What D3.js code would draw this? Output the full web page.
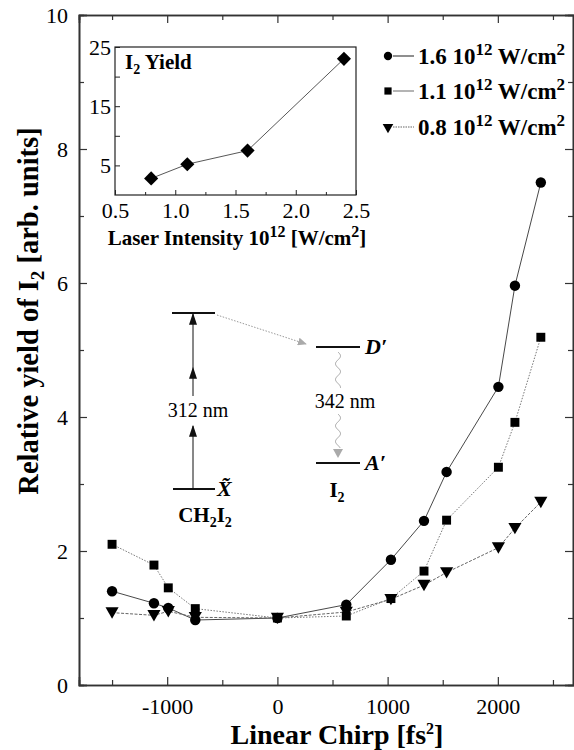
<!DOCTYPE html>
<html><head><meta charset="utf-8">
<script src="https://cdn.jsdelivr.net/npm/d3@7"></script>
<style>
body{margin:0;background:#fff}
svg{display:block}
text{font-family:"Liberation Serif","Times New Roman","DejaVu Serif",serif;fill:#000}
</style>
</head><body>
<svg id="c" width="574" height="750"></svg>
<script>
// ---- data ----
const chirp = [-1500, -1120, -990, -745, 0, 625, 1030, 1330, 1535, 2005, 2155, 2390];
const yield16 = [1.40, 1.22, 1.15, 0.97, 1.0, 1.20, 1.87, 2.45, 3.18, 4.45, 5.96, 7.50];
const yield11 = [2.10, 1.79, 1.45, 1.14, 1.0, 1.03, 1.29, 1.70, 2.46, 3.25, 3.92, 5.19];
const yield08 = [1.08, 1.04, 1.10, 1.01, 1.0, 1.09, 1.28, 1.49, 1.68, 2.05, 2.34, 2.73];
const seriesLabels = ["1.6", "1.1", "0.8"];
const xMajorTicks = [-1000, 0, 1000, 2000];
const xMinorTicks = [-1500, -500, 500, 1500, 2500];
const yMajorTicks = [0, 2, 4, 6, 8, 10];
const yMinorTicks = [1, 3, 5, 7, 9];
const intensity = [0.8, 1.1, 1.6, 2.4];
const totalYield = [2.8, 5.2, 7.5, 23.0];
const insetXTicks = [0.5, 1.0, 1.5, 2.0, 2.5];
const insetXMinor = [0.75, 1.25, 1.75, 2.25];
const insetYTicks = [5, 15, 25];
const insetYMinor = [10, 20];

const FONT = '"Liberation Serif","Times New Roman","DejaVu Serif",serif';
const svg = d3.select("#c");
const M = {l: 79, r: 575, t: 15, b: 685};
const x = d3.scaleLinear().domain([-1800, 2700]).range([M.l, M.r]);
const y = d3.scaleLinear().domain([0, 10]).range([M.b, M.t]);

const axisColor = "#333";
function styleAxis(g){
  g.attr("font-family", FONT);
  g.select(".domain").attr("stroke", axisColor).attr("stroke-width", 1.6);
  g.selectAll(".tick line").attr("stroke", axisColor).attr("stroke-width", 1.2);
  g.selectAll(".tick text").attr("font-size", 22).attr("font-family", FONT).attr("fill","#000");
}
const plain = d => String(d);
// bottom
svg.append("g").attr("transform", `translate(0,${M.b})`)
  .call(d3.axisBottom(x).tickValues(xMajorTicks).tickSize(-8).tickPadding(13).tickFormat(plain))
  .call(styleAxis);
svg.append("g").attr("transform", `translate(0,${M.b})`)
  .call(d3.axisBottom(x).tickValues(xMinorTicks).tickSize(-5).tickFormat(""))
  .call(styleAxis);
// top
svg.append("g").attr("transform", `translate(0,${M.t})`)
  .call(d3.axisTop(x).tickValues(xMajorTicks).tickSize(-8).tickFormat(""))
  .call(styleAxis);
svg.append("g").attr("transform", `translate(0,${M.t})`)
  .call(d3.axisTop(x).tickValues(xMinorTicks).tickSize(-5).tickFormat(""))
  .call(styleAxis);
// left
svg.append("g").attr("transform", `translate(${M.l},0)`)
  .call(d3.axisLeft(y).tickValues(yMajorTicks).tickSize(-8).tickPadding(11).tickFormat(plain))
  .call(styleAxis);
svg.append("g").attr("transform", `translate(${M.l},0)`)
  .call(d3.axisLeft(y).tickValues(yMinorTicks).tickSize(-5).tickFormat(""))
  .call(styleAxis);
// right
svg.append("g").attr("transform", `translate(${M.r - 2},0)`)
  .call(d3.axisRight(y).tickValues(yMajorTicks).tickSize(-8).tickFormat(""))
  .call(styleAxis);
svg.append("g").attr("transform", `translate(${M.r - 2},0)`)
  .call(d3.axisRight(y).tickValues(yMinorTicks).tickSize(-5).tickFormat(""))
  .call(styleAxis);

// axis titles
const xt = svg.append("text").attr("x", 337).attr("y", 744).attr("text-anchor", "middle")
  .attr("font-size", 28).attr("font-weight", "bold");
xt.append("tspan").text("Linear Chirp [fs");
xt.append("tspan").attr("font-size", 16).attr("dy", -10).text("2");
xt.append("tspan").attr("dy", 10).text("]");

const yt = svg.append("text").attr("transform", "translate(38,311) rotate(-90)")
  .attr("text-anchor", "middle").attr("font-size", 28.5).attr("font-weight", "bold");
yt.append("tspan").text("Relative yield of I");
yt.append("tspan").attr("font-size", 19).attr("dy", 6).text("2");
yt.append("tspan").attr("dy", -6).text(" [arb. units]");

// series
const series = [
  {vals: yield16, sym: d3.symbolCircle, size: 85, rot: 0, stroke: "#333", dash: null, lw: 0.9},
  {vals: yield11, sym: d3.symbolSquare, size: 80, rot: 0, stroke: "#777", dash: "1.5,1.5", lw: 1},
  {vals: yield08, sym: d3.symbolTriangle, size: 75, rot: 180, stroke: "#666", dash: "3,1.5", lw: 1}
];
const line = d3.line().x(d => x(d[0])).y(d => y(d[1]));
series.forEach(s => {
  const pts = chirp.map((c, i) => [c, s.vals[i]]);
  svg.append("path").attr("d", line(pts)).attr("fill", "none")
    .attr("stroke", s.stroke).attr("stroke-width", s.lw).attr("stroke-dasharray", s.dash);
});
series.slice().reverse().forEach(s => {
  svg.append("g").selectAll("path").data(chirp.map((c, i) => [c, s.vals[i]])).join("path")
    .attr("d", d3.symbol(s.sym, s.size))
    .attr("transform", d => `translate(${x(d[0])},${y(d[1]) + (s.rot ? -1.5 : 0)}) rotate(${s.rot})`)
    .attr("fill", "#000");
});

// legend
const legY = [56, 91, 127];
series.forEach((s, i) => {
  const g = svg.append("g").attr("transform", `translate(388,${legY[i]})`);
  g.append("path").attr("d", d3.symbol(s.sym, s.size * 0.65)).attr("transform", `rotate(${s.rot})`).attr("fill", "#000");
  g.append("line").attr("x1", 5).attr("x2", 26).attr("stroke", s.stroke).attr("stroke-width", 1.1)
    .attr("stroke-dasharray", i === 2 ? "1.5,1" : null);
  const t = g.append("text").attr("x", 30).attr("y", 8).attr("font-size", 23).attr("font-weight", "bold");
  t.append("tspan").text(seriesLabels[i] + " 10");
  t.append("tspan").attr("font-size", 17).attr("dy", -9).text("12");
  t.append("tspan").attr("dy", 9).text(" W/cm");
  t.append("tspan").attr("font-size", 17).attr("dy", -9).text("2");
});

// ---- inset ----
const I = {l: 115, r: 356, t: 47, b: 195};
const ix = d3.scaleLinear().domain([0.5, 2.5]).range([I.l, I.r]);
const iy = d3.scaleLinear().domain([0, 25]).range([I.b, I.t]);
const inset = svg.append("g");
inset.append("rect").attr("x", I.l).attr("y", I.t).attr("width", I.r - I.l).attr("height", I.b - I.t)
  .attr("fill", "#fff").attr("stroke", "#222").attr("stroke-width", 1.2);
function styleI(g){
  g.attr("font-family", FONT);
  g.select(".domain").remove();
  g.selectAll(".tick line").attr("stroke", "#222").attr("stroke-width", 1);
  g.selectAll(".tick text").attr("font-size", 22).attr("font-family", FONT).attr("fill","#000");
}
inset.append("g").attr("transform", `translate(0,${I.b})`)
  .call(d3.axisBottom(ix).tickValues(insetXTicks).tickSize(-5).tickPadding(7).tickFormat(d3.format(".1f"))).call(styleI);
inset.append("g").attr("transform", `translate(0,${I.b})`)
  .call(d3.axisBottom(ix).tickValues(insetXMinor).tickSize(-3).tickFormat("")).call(styleI);
inset.append("g").attr("transform", `translate(${I.l},0)`)
  .call(d3.axisLeft(iy).tickValues(insetYTicks).tickSize(-5).tickPadding(4).tickFormat(plain)).call(styleI);
inset.append("g").attr("transform", `translate(${I.l},0)`)
  .call(d3.axisLeft(iy).tickValues(insetYMinor).tickSize(-5).tickFormat("")).call(styleI);
const ipts = intensity.map((v, i) => [v, totalYield[i]]);
inset.append("path").attr("d", d3.line().x(d => ix(d[0])).y(d => iy(d[1]))(ipts))
  .attr("fill", "none").attr("stroke", "#444").attr("stroke-width", 0.9);
inset.selectAll(".dia").data(ipts).join("path")
  .attr("d", d3.symbol(d3.symbolSquare, 100))
  .attr("transform", d => `translate(${ix(d[0])},${iy(d[1])}) rotate(45)`).attr("fill", "#000");
const it = inset.append("text").attr("x", I.l + 10).attr("y", I.t + 22).attr("font-size", 21).attr("font-weight", "bold");
it.append("tspan").text("I");
it.append("tspan").attr("font-size", 14).attr("dy", 5).text("2");
it.append("tspan").attr("dy", -5).text(" Yield");
const il = inset.append("text").attr("x", 237).attr("y", 245).attr("text-anchor", "middle").attr("font-size", 21).attr("font-weight", "bold");
il.append("tspan").text("Laser Intensity 10");
il.append("tspan").attr("font-size", 16).attr("dy", -8).text("12");
il.append("tspan").attr("dy", 8).text(" [W/cm");
il.append("tspan").attr("font-size", 16).attr("dy", -8).text("2");
il.append("tspan").attr("dy", 8).text("]");

// ---- energy level diagram (annotation) ----
const dg = svg.append("g");
const blk = "#111", gry = "#999";
svg.append("defs").html(`
 <marker id="ah" viewBox="0 0 10 10" refX="9" refY="5" markerUnits="userSpaceOnUse" markerWidth="12" markerHeight="8" preserveAspectRatio="none" orient="auto"><path d="M0,0 L10,5 L0,10 z" fill="#111"/></marker>
 <marker id="ag" viewBox="0 0 10 10" refX="9" refY="5" markerUnits="userSpaceOnUse" markerWidth="9" markerHeight="8" preserveAspectRatio="none" orient="auto"><path d="M0,0 L10,5 L0,10 z" fill="#aaa"/></marker>`);
const lev = (x1, x2, yy) => dg.append("line").attr("x1", x1).attr("x2", x2).attr("y1", yy).attr("y2", yy).attr("stroke", blk).attr("stroke-width", 1.8);
lev(172, 215, 313); lev(173, 215, 489); lev(316, 360, 347); lev(316, 360, 463);
const vseg = (y1, y2) => dg.append("line").attr("x1", 193).attr("x2", 193).attr("y1", y1).attr("y2", y2)
  .attr("stroke", blk).attr("stroke-width", 1).attr("marker-end", "url(#ah)");
vseg(489, 426); vseg(396, 368); vseg(368, 314);
dg.append("text").attr("x", 198).attr("y", 417).attr("text-anchor", "middle").attr("font-size", 20).text("312 nm");
dg.append("line").attr("x1", 217).attr("y1", 315).attr("x2", 306).attr("y2", 344)
  .attr("stroke", gry).attr("stroke-width", 1).attr("stroke-dasharray", "1.5,1.5").attr("marker-end", "url(#ag)");
// wavy line
function wave(y1, y2){
  const pts = d3.range(y1, y2 + 0.1, 0.5).map(v => [338 + 2.5 * Math.sin((v - y1) / 2.5), v]);
  dg.append("path").attr("d", d3.line()(pts)).attr("fill", "none").attr("stroke", gry).attr("stroke-width", 0.9);
}
wave(352, 388); wave(414, 448);
dg.append("path").attr("d", "M333,449 L343,449 L338,458 Z").attr("fill", "#aaa");
dg.append("text").attr("x", 345).attr("y", 408).attr("text-anchor", "middle").attr("font-size", 20).text("342 nm");
dg.append("text").attr("x", 365).attr("y", 354).attr("font-size", 22).attr("font-weight", "bold").attr("font-style", "italic").text("D′");
dg.append("text").attr("x", 365).attr("y", 470).attr("font-size", 22).attr("font-weight", "bold").attr("font-style", "italic").text("A′");
dg.append("text").attr("x", 217).attr("y", 496).attr("font-size", 22).attr("font-weight", "bold").attr("font-style", "italic").text("X̃");
const ch = dg.append("text").attr("x", 205).attr("y", 522).attr("text-anchor", "middle").attr("font-size", 21).attr("font-weight", "bold");
ch.append("tspan").text("CH");
ch.append("tspan").attr("font-size", 14).attr("dy", 5).text("2");
ch.append("tspan").attr("dy", -5).text("I");
ch.append("tspan").attr("font-size", 14).attr("dy", 5).text("2");
const i2 = dg.append("text").attr("x", 337).attr("y", 497).attr("text-anchor", "middle").attr("font-size", 21).attr("font-weight", "bold");
i2.append("tspan").text("I");
i2.append("tspan").attr("font-size", 14).attr("dy", 5).text("2");
</script>
</body></html>
